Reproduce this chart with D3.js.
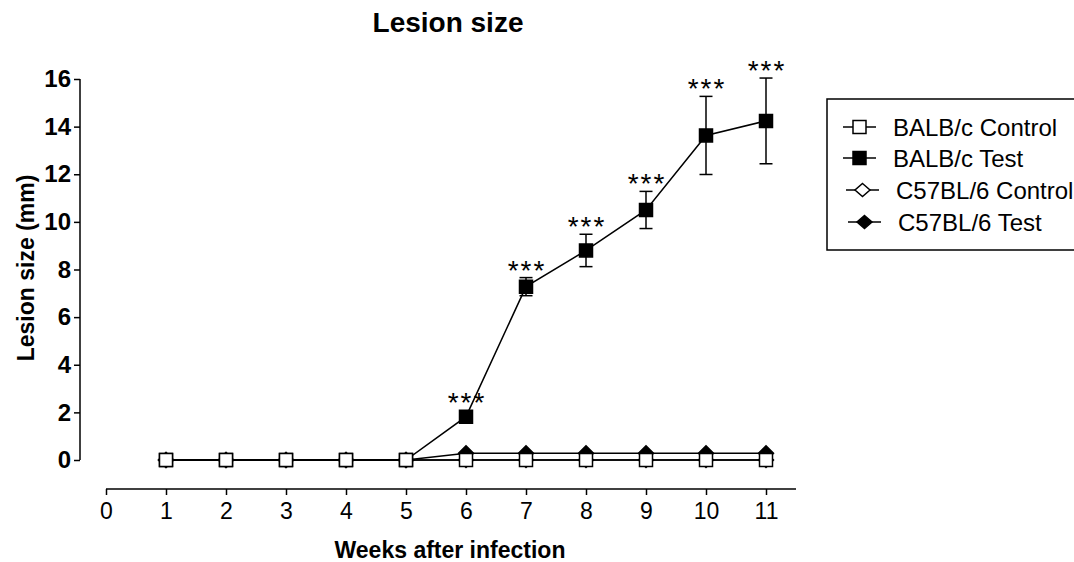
<!DOCTYPE html>
<html>
<head>
<meta charset="utf-8">
<script src="https://cdn.jsdelivr.net/npm/d3@7"></script>
<style>
  html, body { margin: 0; padding: 0; background: #fff; }
  svg { display: block; font-family: "Liberation Sans", Arial, Helvetica, sans-serif; }
</style>
</head>
<body>
<svg id="chart" width="1074" height="562"></svg>
<script>
// ---- data ----
const weeks = [1, 2, 3, 4, 5, 6, 7, 8, 9, 10, 11];
const balbControl = [0, 0, 0, 0, 0, 0, 0, 0, 0, 0, 0];
const balbTest = [0, 0, 0, 0, 0, 1.82, 7.28, 8.8, 10.5, 13.63, 14.24];
const balbTestSem = [0, 0, 0, 0, 0, 0.1, 0.38, 0.68, 0.78, 1.64, 1.8];
const c57Control = [0, 0, 0, 0, 0, 0, 0, 0, 0, 0, 0];
const c57Test = [0, 0, 0, 0, 0, 0.28, 0.28, 0.28, 0.28, 0.28, 0.28];
const significance = ["", "", "", "", "", "***", "***", "***", "***", "***", "***"];
const xTicks = [0, 1, 2, 3, 4, 5, 6, 7, 8, 9, 10, 11];
const yTicks = [0, 2, 4, 6, 8, 10, 12, 14, 16];
const seriesNames = ["BALB/c Control", "BALB/c Test", "C57BL/6 Control", "C57BL/6 Test"];
const titleText = "Lesion size";
const xTitle = "Weeks after infection";
const yTitle = "Lesion size (mm)";

// ---- setup ----
const svg = d3.select("#chart");
const x = d3.scaleLinear().domain([0, 11.5]).range([106, 796]);
const y = d3.scaleLinear().domain([0, 16]).range([460, 79]);

const series = [
  { name: seriesNames[3], values: c57Test, shape: "diamond", fill: "#000" },
  { name: seriesNames[2], values: c57Control, shape: "diamond", fill: "#fff" },
  { name: seriesNames[1], values: balbTest, sem: balbTestSem, shape: "square", fill: "#000" },
  { name: seriesNames[0], values: balbControl, shape: "square", fill: "#fff" }
];

function markerPath(shape) {
  if (shape === "square") return "M-6.5,-6.5H6.5V6.5H-6.5Z";
  return "M0,-7.5L7.5,0L0,7.5L-7.5,0Z";
}

// title
svg.append("text").attr("x", 448).attr("y", 32)
  .attr("text-anchor", "middle").attr("font-size", 28).attr("font-weight", "bold")
  .text(titleText);

// y axis
const yAxis = svg.append("g").attr("transform", "translate(80,0)")
  .call(d3.axisLeft(y).tickValues(yTicks).tickSize(6).tickPadding(3).tickFormat(d3.format("d")));
yAxis.select(".domain").attr("stroke", "#000").attr("stroke-width", 1.5).attr("d", "M0," + y(16) + "V" + y(0));
yAxis.selectAll(".tick line").attr("stroke", "#000").attr("stroke-width", 1.5);
yAxis.selectAll(".tick text").attr("font-size", 24).attr("font-weight", "bold").attr("fill", "#000");
yAxis.attr("font-family", null);

// x axis
const xAxis = svg.append("g").attr("transform", "translate(0,489)")
  .call(d3.axisBottom(x).tickValues(xTicks).tickSize(6).tickPadding(8).tickFormat(d3.format("d")));
xAxis.select(".domain").attr("stroke", "#000").attr("stroke-width", 1.5).attr("d", "M" + x(0) + ",0H" + x(11.5));
xAxis.selectAll(".tick line").attr("stroke", "#000").attr("stroke-width", 1.5);
xAxis.selectAll(".tick text").attr("font-size", 23).attr("fill", "#000");
xAxis.attr("font-family", null);

// axis titles
svg.append("text").attr("x", 450).attr("y", 558)
  .attr("text-anchor", "middle").attr("font-size", 23).attr("font-weight", "bold")
  .text(xTitle);
svg.append("text").attr("transform", "translate(34,268) rotate(-90)")
  .attr("text-anchor", "middle").attr("font-size", 23).attr("font-weight", "bold")
  .text(yTitle);

// series
const line = d3.line().x((d, i) => x(weeks[i])).y(d => y(d));
series.forEach(s => {
  const g = svg.append("g");
  g.append("path").datum(s.values).attr("d", line)
    .attr("fill", "none").attr("stroke", "#000").attr("stroke-width", 1.5);
  if (s.sem) {
    const eb = g.selectAll("g.eb").data(s.values.map((v, i) => ({ v, e: s.sem[i], w: weeks[i] })).filter(d => d.e > 0))
      .enter().append("g");
    eb.append("line").attr("x1", d => x(d.w)).attr("x2", d => x(d.w))
      .attr("y1", d => y(d.v + d.e)).attr("y2", d => y(d.v - d.e))
      .attr("stroke", "#000").attr("stroke-width", 1.5);
    [1, -1].forEach(sg => {
      eb.append("line").attr("x1", d => x(d.w) - 6.5).attr("x2", d => x(d.w) + 6.5)
        .attr("y1", d => y(d.v + sg * d.e)).attr("y2", d => y(d.v + sg * d.e))
        .attr("stroke", "#000").attr("stroke-width", 1.5);
    });
  }
  g.selectAll("path.m").data(s.values).enter().append("path")
    .attr("class", "m")
    .attr("transform", (d, i) => "translate(" + x(weeks[i]) + "," + y(d) + ")")
    .attr("d", markerPath(s.shape))
    .attr("fill", s.fill).attr("stroke", "#000").attr("stroke-width", 1.5);
});

// significance stars
const starData = significance.map((t, i) => ({ t, w: weeks[i], v: balbTest[i], e: balbTestSem[i] }))
  .filter(d => d.t !== "");
svg.append("g").selectAll("text").data(starData).enter().append("text")
  .attr("x", d => x(d.w) + 1)
  .attr("y", d => Math.min(y(d.v + d.e), y(d.v) - 6.5) + 2)
  .attr("text-anchor", "middle").attr("font-size", 28).attr("letter-spacing", 2)
  .text(d => d.t);

// legend
svg.append("rect").attr("x", 827).attr("y", 99).attr("width", 262).attr("height", 151)
  .attr("fill", "#fff").attr("stroke", "#000").attr("stroke-width", 1.5);
const legendItems = [
  { name: seriesNames[0], shape: "square", fill: "#fff", cy: 127, lx: 843, tx: 893 },
  { name: seriesNames[1], shape: "square", fill: "#000", cy: 158, lx: 843, tx: 893 },
  { name: seriesNames[2], shape: "diamond", fill: "#fff", cy: 190, lx: 846, tx: 896 },
  { name: seriesNames[3], shape: "diamond", fill: "#000", cy: 222, lx: 848, tx: 898 }
];
const lg = svg.append("g").selectAll("g").data(legendItems).enter().append("g");
lg.append("line").attr("x1", d => d.lx).attr("x2", d => d.lx + 33)
  .attr("y1", d => d.cy).attr("y2", d => d.cy).attr("stroke", "#000").attr("stroke-width", 1.5);
lg.append("path").attr("transform", d => "translate(" + (d.lx + 16.5) + "," + d.cy + ")")
  .attr("d", d => d.shape === "square" ? "M-6.5,-6.5H6.5V6.5H-6.5Z" : "M0,-6.5L7.5,0L0,6.5L-7.5,0Z")
  .attr("fill", d => d.fill).attr("stroke", "#000").attr("stroke-width", 1.5);
lg.append("text").attr("x", d => d.tx).attr("y", d => d.cy + 8.5)
  .attr("font-size", 24).text(d => d.name);
</script>
</body>
</html>
